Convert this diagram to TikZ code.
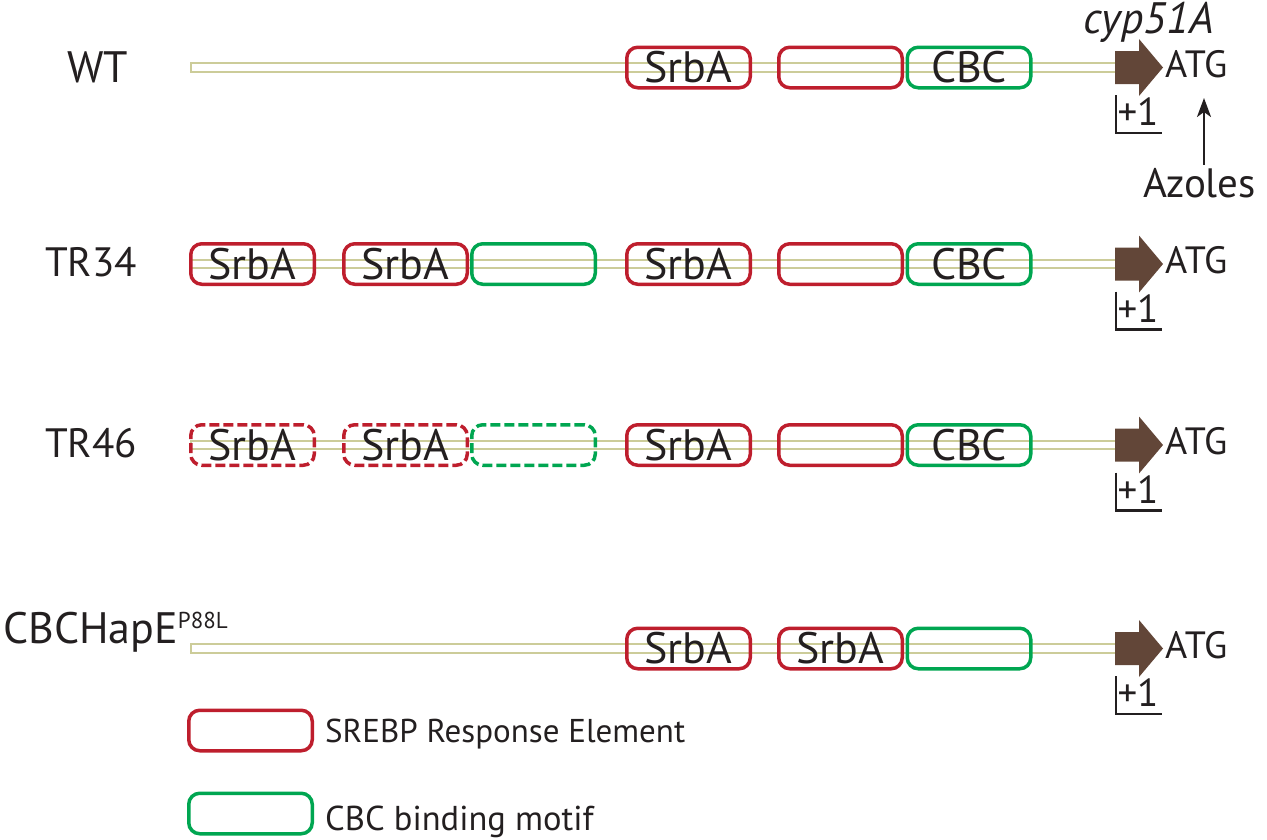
\documentclass[tikz,border=0pt]{standalone}
\usepackage{fontspec}
\setmainfont{PT Sans}
\usetikzlibrary{arrows.meta}
\definecolor{dnaline}{RGB}{204,204,153}
\definecolor{sred}{RGB}{190,30,45}
\definecolor{cgreen}{RGB}{0,166,81}
\definecolor{abrown}{RGB}{98,70,56}
\definecolor{ink}{RGB}{35,31,32}
\newcommand\myfs[1]{\fontsize{#1}{#1}\selectfont}
\begin{document}
\begin{tikzpicture}[x=1pt,y=-1pt,
  elem/.style={draw, line width=3.5pt, rounded corners=11pt, minimum width=123.5pt,
    minimum height=40.5pt, inner sep=0pt, text=ink, font=\myfs{44}},
  srebp/.style={elem, draw=sred},
  cbcbox/.style={elem, draw=cgreen},
  ghost/.style={dash pattern=on 10pt off 4pt},
  lbl/.style={anchor=base west, inner sep=0pt, text=ink, font=\myfs{44}},
  dna/.style={draw=dnaline, line width=2.2pt},
  tss/.style={draw=ink, line width=2.2pt}
]
\useasboundingbox (0,0) rectangle (1267,839);

% rows: DNA line, start arrow, ATG, +1 marker
\foreach \c/\n in {67.5/w, 264/a, 445/b, 648.5/h}{
  \draw[dna] (191,\c-4.25) rectangle (1117,\c+4.25);
  \fill[abrown] (1115,\c-16.5) -- (1139,\c-16.5) -- (1139,\c-28.5) -- (1163,\c)
     -- (1139,\c+28.5) -- (1139,\c+16.5) -- (1115,\c+16.5) -- cycle;
  \node[lbl, font=\myfs{38}] (atg\n) at (1165,\c+9.5) {ATG};
  \coordinate (tss\n) at (1116,\c+27.5);
  \coordinate (tsse\n) at (1162,\c+65.5);
  \draw[tss] (tss\n) |- (tsse\n);
  \node[anchor=base, inner sep=0pt, text=ink, font=\myfs{39}] (one\n) at (1138,\c+58) {+1};
}

% row labels
\node[lbl] (lwt) at (67,82) {WT};
\node[lbl, font=\myfs{41}] (ltra) at (45,276) {TR34};
\node[lbl, font=\myfs{41}] (ltrb) at (45,457) {TR46};
\node[lbl] (lhap) at (3,643) {CBCHapE\raisebox{15pt}{\myfs{23}P88L}};
\node[lbl, font=\myfs{44}\itshape] (gene) at (1083,33) {cyp51A};

% WT
\node[srebp] (w1) at (688.5,67.5) {SrbA};
\node[srebp] (w2) at (840.5,67.5) {};
\node[cbcbox] (w3) at (969,67.5) {CBC};

% TR34
\node[srebp] (a1) at (252.5,264) {SrbA};
\node[srebp] (a2) at (405.5,264) {SrbA};
\node[cbcbox] (a3) at (533.5,264) {};
\node[srebp] (a4) at (688.5,264) {SrbA};
\node[srebp] (a5) at (840.5,264) {};
\node[cbcbox] (a6) at (969,264) {CBC};

% TR46
\node[srebp, ghost] (b1) at (252.5,445) {SrbA};
\node[srebp, ghost] (b2) at (405.5,445) {SrbA};
\node[cbcbox, ghost] (b3) at (533.5,445) {};
\node[srebp] (b4) at (688.5,445) {SrbA};
\node[srebp] (b5) at (840.5,445) {};
\node[cbcbox] (b6) at (969,445) {CBC};

% CBCHapE P88L
\node[srebp] (h1) at (688.5,648.5) {SrbA};
\node[srebp] (h2) at (840.5,648.5) {SrbA};
\node[cbcbox] (h3) at (969,648.5) {};

% Azoles
\node[lbl, font=\myfs{41}] (azoles) at (1143,197) {Azoles};
\coordinate (azt) at (1204,98);
\draw[ink, line width=2.2pt, -{Stealth[length=19pt,width=14pt,inset=5pt]}]
  ([yshift=3pt]azoles.north -| azt) -- (azt);

% legend
\node[srebp] (legr) at (250.5,730.5) {};
\node[cbcbox] (legg) at (250.5,813.5) {};
\node[lbl, font=\myfs{33}] (legrt) at (325,742) {SREBP Response Element};
\node[lbl, font=\myfs{34.5}] (leggt) at (325,830) {CBC binding motif};
\end{tikzpicture}
\end{document}
